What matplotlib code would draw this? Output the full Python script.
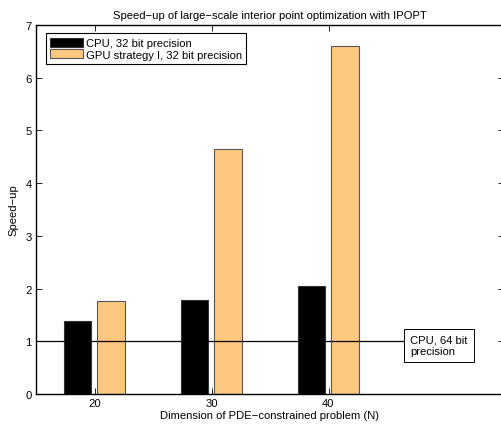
import numpy as np
import matplotlib
matplotlib.use("Agg")
import matplotlib.pyplot as plt

plt.rcParams['font.family'] = ['Liberation Sans', 'DejaVu Sans']

# problem sizes and measured speed-ups
dims = [20, 30, 40]
cpu32 = [1.38, 1.79, 2.04]
gpu32 = [1.76, 4.65, 6.60]
baseline = 1.0

fs = 8.1

fig = plt.figure(figsize=(5.02, 4.27), dpi=100)
ax = fig.add_axes([36 / 502, 32 / 427, 468 / 502, 369 / 427])

x = np.array(dims, dtype=float)
w = 2.35
ax.bar(x - 1.45, cpu32, w, color='black', edgecolor='#333333', linewidth=0.8,
       label='CPU, 32 bit precision')
ax.bar(x + 1.42, gpu32, w, color='#FFC880', edgecolor='#555555', linewidth=0.8,
       label='GPU strategy I, 32 bit precision')

# double precision CPU reference line
ax.plot([15, 46.4], [baseline, baseline], color='black', linewidth=0.9)
ax.text(46.95, 1.12, 'CPU, 64 bit\nprecision', fontsize=fs, va='top', ha='left',
        linespacing=1.1,
        bbox=dict(boxstyle='square,pad=0.55', facecolor='white', edgecolor='black', linewidth=0.7))

ax.set_xlim(15, 55)
ax.set_ylim(0, 7)
ax.set_xticks(dims)
ax.set_yticks(range(0, 8))
ax.tick_params(direction='in', top=True, right=True, labelsize=fs, length=4, width=0.6, pad=3)
for s in ax.spines.values():
    s.set_linewidth(1.0)

ax.set_xlabel('Dimension of PDE\u2212constrained problem (N)', fontsize=fs, labelpad=1)
ax.set_ylabel('Speed\u2212up', fontsize=fs, labelpad=5)
ax.set_title('Speed\u2212up of large\u2212scale interior point optimization with IPOPT', fontsize=fs, pad=5)

leg = ax.legend(loc='upper left', fontsize=fs, frameon=True, fancybox=False,
                edgecolor='black', framealpha=1, borderpad=0.4, handlelength=2.9,
                handleheight=0.85, handletextpad=0.25, labelspacing=0.1,
                bbox_to_anchor=(0.021, 0.978), borderaxespad=0)
leg.get_frame().set_linewidth(0.8)

fig.savefig('out.png', dpi=100)
